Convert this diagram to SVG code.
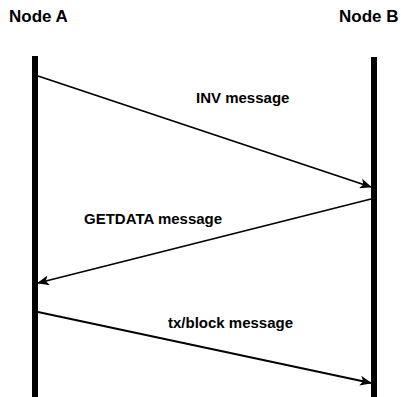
<svg xmlns="http://www.w3.org/2000/svg" width="401" height="397" viewBox="0 0 401 397">
  <style>
    .title { font-family: "Liberation Sans", Arial, sans-serif; font-weight: bold; font-size: 17px; fill: #000; }
    .label { font-family: "Liberation Sans", Arial, sans-serif; font-weight: bold; font-size: 15px; fill: #000; }
    .life { fill: #000; }
    .msg { stroke: #000; stroke-width: 1.8; fill: none; marker-end: url(#arrow); }
  </style>
  <defs>
    <marker id="arrow" markerUnits="userSpaceOnUse" markerWidth="12" markerHeight="10" refX="11" refY="5" orient="auto" viewBox="0 0 12 10">
      <path d="M0,0 L12,5 L0,10 L3,5 z" fill="#000"/>
    </marker>
  </defs>
  <rect width="401" height="397" fill="#fff"/>
  <g id="nodeA">
    <text class="title" x="9" y="22">Node A</text>
    <rect class="life" x="32" y="56" width="6" height="341"/>
  </g>
  <g id="nodeB">
    <text class="title" x="339" y="22">Node B</text>
    <rect class="life" x="371" y="57" width="6" height="340"/>
  </g>
  <g id="connectors">
    <line class="msg" x1="38" y1="76" x2="371" y2="187"/>
    <line class="msg" x1="371" y1="199" x2="38" y2="283"/>
    <line class="msg" x1="38" y1="312" x2="371" y2="383"/>
  </g>
  <g id="labels">
    <text class="label" x="196" y="103">INV message</text>
    <text class="label" x="84" y="224">GETDATA message</text>
    <text class="label" x="168" y="328">tx/block message</text>
  </g>
</svg>
